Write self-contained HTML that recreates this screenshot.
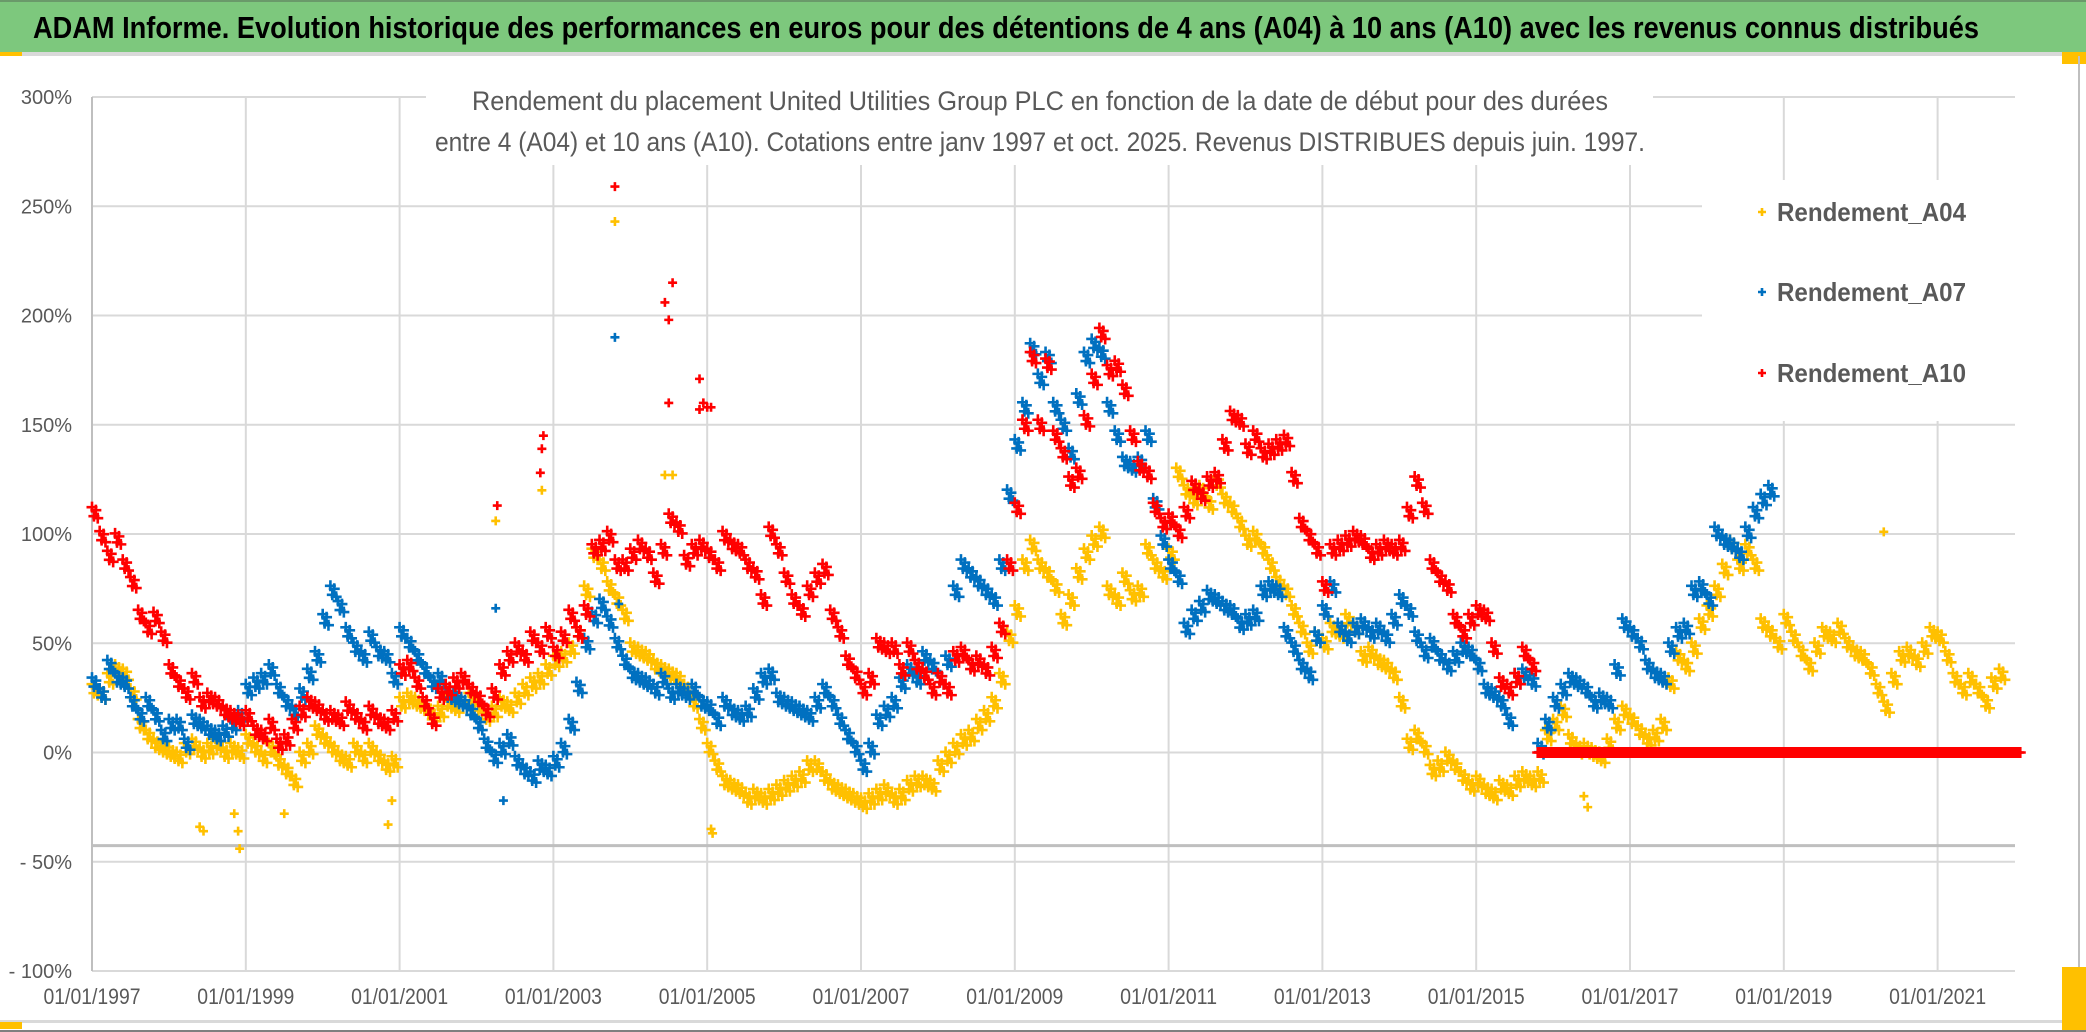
<!DOCTYPE html>
<html><head><meta charset="utf-8"><title>ADAM Informe</title>
<style>html,body{margin:0;padding:0;background:#fff;}svg{display:block;}</style></head>
<body>
<svg id="chart" width="2086" height="1032" viewBox="0 0 2086 1032" xmlns="http://www.w3.org/2000/svg">
  <rect x="0" y="0" width="2086" height="1032" fill="#ffffff"/>
  <rect x="0" y="0" width="2086" height="52" fill="#7dc87d"/>
  <line x1="0" y1="1" x2="2086" y2="1" stroke="#6a9a6a" stroke-width="2"/>
  <text x="33" y="38" font-family="'Liberation Sans', sans-serif" font-weight="bold" font-size="31" fill="#000" textLength="1946" lengthAdjust="spacingAndGlyphs">ADAM Informe. Evolution historique des performances en euros pour des détentions de 4 ans (A04) à 10 ans (A10) avec les revenus connus distribués</text>
  <rect x="0" y="52" width="2086" height="4" fill="#d9d9d9"/>
  <rect x="0" y="52" width="22" height="4" fill="#ffc000"/>
  <rect x="2062" y="52" width="24" height="12" fill="#ffc000"/>
  <line x1="2079" y1="56" x2="2079" y2="1022" stroke="#bfbfbf" stroke-width="2"/>
  <rect x="0" y="1020" width="2086" height="3" fill="#d9d9d9"/>
  <rect x="0" y="1022" width="22" height="7" fill="#ffc000"/>
  <rect x="2062" y="967" width="24" height="65" fill="#ffc000"/>
  <line x1="0" y1="1031" x2="2086" y2="1031" stroke="#7f7f7f" stroke-width="2"/>
  <g id="grid"></g>
  <g id="marks"></g>
  <rect x="426" y="78" width="1227" height="87" fill="#fff"/>
  <text x="1040" y="110" text-anchor="middle" font-family="'Liberation Sans', sans-serif" font-size="27" fill="#595959" textLength="1136" lengthAdjust="spacingAndGlyphs">Rendement du placement United Utilities Group PLC en fonction de la date de début pour des durées</text>
  <text x="1040" y="151" text-anchor="middle" font-family="'Liberation Sans', sans-serif" font-size="27" fill="#595959" textLength="1210" lengthAdjust="spacingAndGlyphs">entre 4 (A04) et 10 ans (A10). Cotations entre janv 1997 et oct. 2025. Revenus DISTRIBUES depuis juin. 1997.</text>
  <g id="legend"></g>
  <g id="axes"></g>
</svg>
<script>
// ---- data ----
const startYear = 1997.0;
const stepYear = 0.1;
const xTickYears = [1997, 1999, 2001, 2003, 2005, 2007, 2009, 2011, 2013, 2015, 2017, 2019, 2021];
const xTickLabels = ["01/01/1997","01/01/1999","01/01/2001","01/01/2003","01/01/2005","01/01/2007","01/01/2009","01/01/2011","01/01/2013","01/01/2015","01/01/2017","01/01/2019","01/01/2021"];
const yTickValues = [300, 250, 200, 150, 100, 50, 0, -50, -100];
const yTickLabels = ["300%","250%","200%","150%","100%","50%","0%","- 50%","- 100%"];
const seriesNames = ["Rendement_A04", "Rendement_A07", "Rendement_A10"];
const refLineValue = -42.6;
const a04 = [29,27,34,38,36,27,13,8,4,2,
0,-2,2,4,0,2,4,0,2,0,
6,2,-2,2,-4,-8,-13,-2,2,10,
6,2,-2,-4,2,-2,2,-2,-6,-4,
23,25,23,21,17,19,23,21,23,25,
21,17,19,23,21,25,29,32,34,38,
42,44,48,55,74,91,86,76,70,63,
48,46,44,40,38,36,34,29,23,13,
2,-6,-13,-15,-17,-21,-19,-21,-19,-17,
-15,-13,-11,-6,-6,-11,-15,-17,-19,-21,
-23,-21,-19,-17,-21,-19,-15,-13,-13,-15,
-6,-2,2,6,8,13,17,23,34,53,
65,86,95,86,82,76,61,70,82,91,
97,101,74,70,80,72,74,93,86,82,
91,128,120,116,120,114,124,116,112,105,
97,99,93,86,78,74,65,57,48,53,
50,57,55,61,57,44,46,42,40,36,
23,4,8,2,-8,-6,-2,-6,-11,-15,
-13,-17,-19,-15,-17,-13,-11,-13,-11,8,
13,19,6,2,2,0,-2,4,13,19,
15,10,6,8,13,32,44,40,48,59,
65,74,84,95,86,93,86,59,55,50,
61,53,46,40,48,55,53,57,50,46,
44,38,29,21,34,44,46,42,48,55,
53,44,34,29,34,29,23,32,36];
const a07 = [32,27,40,34,32,23,17,23,17,8,
13,13,4,15,13,10,8,10,13,17,
29,32,34,38,29,23,19,27,36,44,
61,74,67,55,48,44,53,46,44,34,
55,50,44,38,32,34,27,25,23,19,
13,4,-2,2,6,-4,-8,-11,-6,-8,
-4,2,13,30,50,62,68,60,50,42,
36,34,32,29,34,27,29,27,29,23,
21,15,23,19,17,19,27,34,36,25,
23,21,19,17,23,29,23,15,8,2,
-6,2,15,19,23,32,38,34,44,40,
34,42,74,86,82,78,74,70,86,118,
141,158,185,171,181,158,150,137,162,181,
187,183,158,145,133,131,133,145,114,97,
86,80,57,63,67,72,70,67,65,59,
61,63,74,76,74,55,48,40,36,53,
65,76,57,53,57,59,55,57,53,61,
70,65,53,46,50,44,40,44,48,46,
40,29,27,23,15,34,36,33,2,13,
23,29,34,32,29,23,25,23,38,59,
55,50,40,36,34,48,55,57,74,76,
70,101,97,95,91,101,110,116,120];
const a10 = [110,99,90,98,86,78,63,57,62,53,
38,32,27,34,23,25,23,19,17,15,
17,10,8,13,4,6,13,19,23,21,
17,17,15,21,17,13,19,15,13,17,
38,40,32,23,15,27,29,32,34,29,
25,19,27,38,44,48,44,53,48,55,
46,53,63,55,65,93,95,99,86,86,
91,95,91,80,93,107,103,88,93,95,
91,86,99,95,93,86,82,70,101,93,
80,70,65,74,80,84,63,55,42,36,
29,34,50,48,48,38,48,40,36,29,
34,29,44,46,40,42,38,46,57,86,
112,150,181,150,178,145,137,124,128,152,
171,192,175,177,166,145,131,128,112,105,
107,101,110,122,118,124,126,141,154,152,
139,145,137,139,141,143,126,105,99,93,
76,93,95,97,99,97,91,93,95,93,
95,110,124,112,86,80,76,61,55,61,
65,63,48,32,29,34,46,40,0,0,
0,0,0,0,0,0,0,0,0,0,
0,0,0,0,0,0,0,0,0,0,
0,0,0,0,0,0,0,0,0,0,
0,0,0,0,0,0,0,0,0,0,
0,0,0,0,0,0,0,0,0,0,
0,0,0,0,0,0,0,0,0,0,
0];
const a04OutlierYears = [1998.4,1998.45,1998.85,1998.9,1998.92,1999.5,2000.85,2000.9,2002.25,2002.85,2003.8,2004.45,2004.55,2005.05,2005.07,2016.4,2016.45,2020.3];
const a04OutlierValues = [-34,-36,-28,-36,-44,-28,-33,-22,106,120,243,127,127,-35,-37,-20,-25,101];
const a07OutlierYears = [2002.25,2002.35,2003.8,2003.85];
const a07OutlierValues = [66,-22,190,68];
const a10OutlierYears = [2002.27,2002.83,2002.85,2002.87,2003.8,2004.45,2004.5,2004.55,2004.5,2004.9,2004.9,2004.95,2005.0,2005.05];
const a10OutlierValues = [113,128,139,145,259,206,198,215,160,171,157,160,158,158];

// ---- axes ----
const NS = "http://www.w3.org/2000/svg";
const X0 = 92, PX_PER_YEAR = 76.9, XRIGHT = 2015;
const Y_TOP = 97, Y_BOT = 971, V_TOP = 300, V_BOT = -100;
function xScale(yr){ return X0 + (yr - 1997) * PX_PER_YEAR; }
function yScale(v){ return Y_TOP + (V_TOP - v) / (V_TOP - V_BOT) * (Y_BOT - Y_TOP); }
function mk(tag, attrs, parent){
  const el = document.createElementNS(NS, tag);
  for (const k in attrs) el.setAttribute(k, attrs[k]);
  parent.appendChild(el);
  return el;
}
const grid = document.getElementById("grid");
const axes = document.getElementById("axes");
const marks = document.getElementById("marks");
const legend = document.getElementById("legend");

yTickValues.forEach((v, i) => {
  const y = yScale(v);
  const gl = mk("line", {x1: X0, x2: XRIGHT, y1: y, y2: y, stroke: "#d9d9d9", "stroke-width": 2}, grid);
  
  
  const t = mk("text", {x: 72, y: y + 7, "text-anchor": "end", "font-family": "'Liberation Sans', sans-serif", "font-size": 20, fill: "#595959"}, axes);
  t.textContent = yTickLabels[i];
  
  
});
xTickYears.forEach((yr, i) => {
  const x = xScale(yr);
  const gl = mk("line", {x1: x, x2: x, y1: Y_TOP, y2: Y_BOT, stroke: "#d9d9d9", "stroke-width": 2}, grid);
  
  
  const t = mk("text", {x: x, y: 1004, "text-anchor": "middle", "font-family": "'Liberation Sans', sans-serif", "font-size": 22, fill: "#595959", textLength: 97, lengthAdjust: "spacingAndGlyphs"}, axes);
  t.textContent = xTickLabels[i];
  
  
});
const yAxis = mk("line", {x1: X0, x2: X0, y1: Y_TOP, y2: Y_BOT, stroke: "#bfbfbf", "stroke-width": 2}, grid);


const refLine = mk("line", {x1: X0, x2: XRIGHT, y1: yScale(refLineValue), y2: yScale(refLineValue), stroke: "#bfbfbf", "stroke-width": 3}, grid);



function plus(x, y, color, size, parent){
  const h = size / 2;
  const p = mk("path", {d: `M${x-h},${y}H${x+h}M${x},${y-h}V${y+h}`, stroke: color, "stroke-width": 2.6, fill: "none"}, parent);
  return p;
}
// marker cluster styling (pixel offsets to render each reading as a small cloud of '+' marks)
const clusterDX = [0, 0.25, 0.5, 0.75];
const clusterDY = [-5, 4, -2, 6];
function drawSeries(values, oy, ov, color, name, flat){
  const g = mk("g", {}, marks);
  
  
  values.forEach((v, i) => {
    const yr = startYear + i * stepYear;
    clusterDX.forEach((dx, k) => {
      const dy = (flat && v === 0) ? 0 : clusterDY[k];
      const p = plus(xScale(yr + dx * stepYear), yScale(v) + dy, color, 11, g);
      
      
    });
  });
  oy.forEach((yr, i) => {
    const p = plus(xScale(yr), yScale(ov[i]), color, 9, g);
    
    
  });
}
drawSeries(a04, a04OutlierYears, a04OutlierValues, "#ffc000", "a04", false);
drawSeries(a07, a07OutlierYears, a07OutlierValues, "#0070c0", "a07", false);
drawSeries(a10, a10OutlierYears, a10OutlierValues, "#ff0000", "a10", true);

// legend
const lbox = mk("rect", {x: 1702, y: 180, width: 313, height: 241, fill: "#fff"}, legend);


const legColors = ["#ffc000", "#0070c0", "#ff0000"];
const legY = [221, 301, 382];
seriesNames.forEach((n, i) => {
  const m = plus(1762, legY[i] - 9, legColors[i], 8, legend);
  
  
  const t = mk("text", {x: 1777, y: legY[i], "font-family": "'Liberation Sans', sans-serif", "font-size": 26, "font-weight": "bold", fill: "#595959", textLength: 189, lengthAdjust: "spacingAndGlyphs"}, legend);
  t.textContent = n;
  
  
});
</script>
</body></html>
